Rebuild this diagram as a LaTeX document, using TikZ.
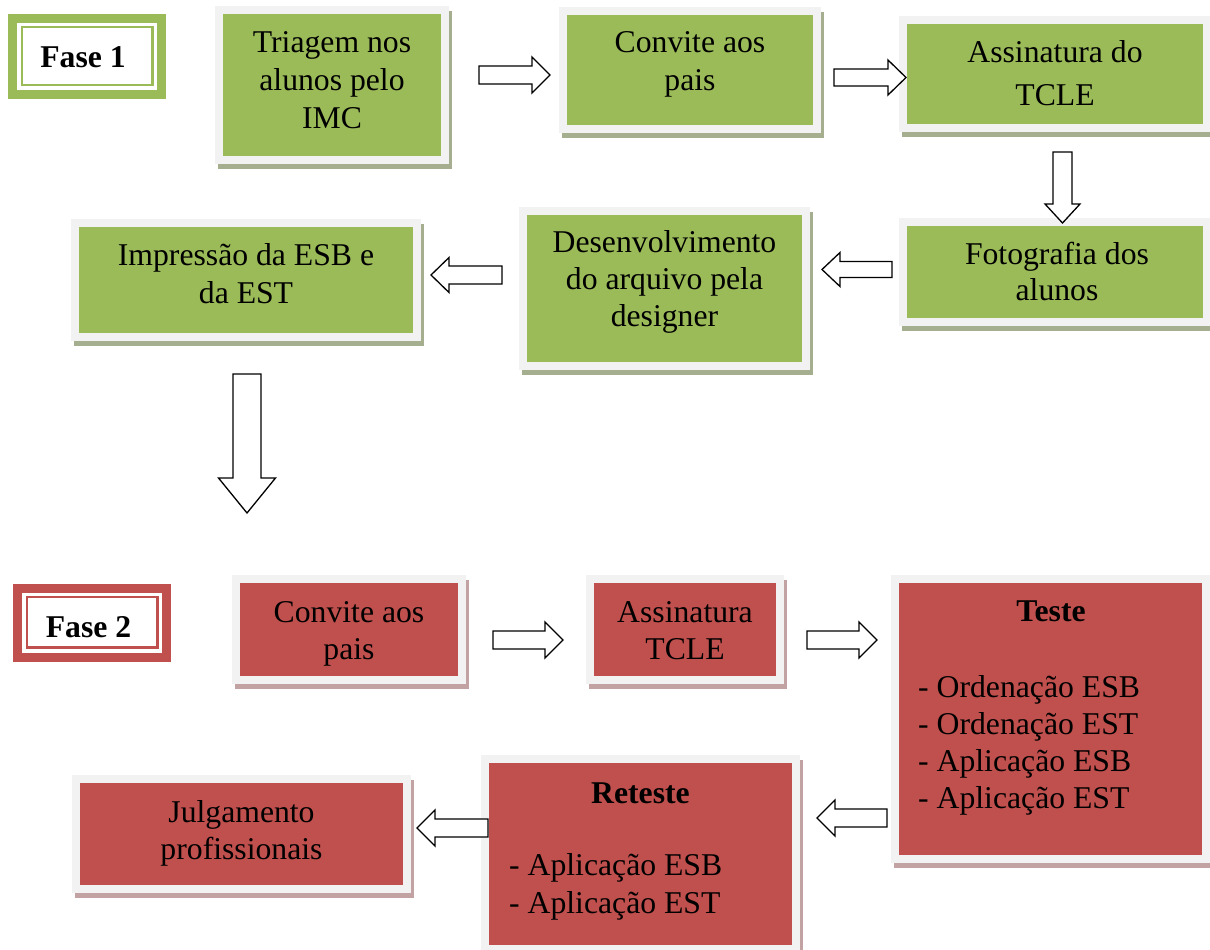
\documentclass[tikz,border=0pt]{standalone}
\usepackage{fontspec}
\setmainfont{Liberation Serif}
\usetikzlibrary{shadows}
\definecolor{gfill}{HTML}{9BBB59}
\definecolor{rfill}{HTML}{C0504D}
\definecolor{frame}{HTML}{F2F2F2}
\definecolor{gshadow}{HTML}{A5AE8E}
\definecolor{rshadow}{HTML}{C2A2A2}
\newcommand{\blockarrow}[6]{%
  \draw[barrow, shift={#1}, rotate=#2] (0,-#4) -- (#3-#6,-#4) -- (#3-#6,-#5) -- (#3,0) -- (#3-#6,#5) -- (#3-#6,#4) -- (0,#4) -- cycle;}
\tikzset{
  boxbase/.style={rectangle, inner sep=0pt, outer sep=0pt, fill=frame},
  gbox/.style={boxbase, drop shadow={shadow xshift=3pt, shadow yshift=-5pt, fill=gshadow, opacity=1},
    path picture={\fill[gfill] ([shift={(8pt,-8pt)}]path picture bounding box.north west) rectangle ([shift={(-8pt,8pt)}]path picture bounding box.south east);}},
  rbox/.style={boxbase, drop shadow={shadow xshift=3pt, shadow yshift=-5pt, fill=rshadow, opacity=1},
    path picture={\fill[rfill] ([shift={(8pt,-8pt)}]path picture bounding box.north west) rectangle ([shift={(-8pt,8pt)}]path picture bounding box.south east);}},
  fasebox/.style={rectangle, inner sep=0pt, outer sep=0pt, fill=#1,
    path picture={\fill[white] ([shift={(9pt,-9pt)}]path picture bounding box.north west) rectangle ([shift={(-9pt,9pt)}]path picture bounding box.south east);
      \draw[#1, line width=2.5pt] ([shift={(13.5pt,-13pt)}]path picture bounding box.north west) rectangle ([shift={(-13pt,14pt)}]path picture bounding box.south east);}},
  txt/.style={inner sep=0pt, anchor=base, font=\fontsize{31.7}{38}\selectfont},
  txtl/.style={txt, anchor=base west},
  btxt/.style={txt, font=\fontsize{31.7}{38}\selectfont\bfseries},
  barrow/.style={draw=black, fill=white, line width=1.3pt, line join=miter}
}
\begin{document}
\begin{tikzpicture}[x=1pt,y=-1pt]
\useasboundingbox[fill=white] (0,0) rectangle (1210,950);

% Fase labels
\node[fasebox=gfill, minimum width=157.4pt, minimum height=85pt] (fase1) at (87,56.5) {};
\node[btxt] (fase1t) at (83,67) {Fase 1};
\node[fasebox=rfill, minimum width=157.4pt, minimum height=77.7pt] (fase2) at (92,622.85) {};
\node[btxt] (fase2t) at (88.5,637) {Fase 2};

% Phase 1 boxes
\node[gbox, minimum width=234pt, minimum height=158pt] (b1) at (332,85) {};
\foreach \t [count=\i] in {Triagem nos, alunos pelo, IMC}
  \node[txt] (b1t\i) at (332,53+37.5*\i-37.5) {\t};

\node[gbox, minimum width=262pt, minimum height=126pt] (b2) at (690,70) {};
\foreach \t [count=\i] in {Convite aos, pais}
  \node[txt] (b2t\i) at (690,53+38*\i-38) {\t};

\node[gbox, minimum width=312pt, minimum height=116pt] (b3) at (1055,74) {};
\foreach \t [count=\i] in {Assinatura do, TCLE}
  \node[txt] (b3t\i) at (1055,63+43*\i-43) {\t};

\node[gbox, minimum width=312pt, minimum height=108pt] (b4) at (1055,272) {};
\foreach \t [count=\i] in {Fotografia dos, alunos}
  \node[txt] (b4t\i) at (1057,264+36*\i-36) {\t};

\node[gbox, minimum width=291pt, minimum height=163pt] (b5) at (664.5,288.5) {};
\foreach \t [count=\i] in {Desenvolvimento, do arquivo pela, designer}
  \node[txt] (b5t\i) at (664.5,252+37*\i-37) {\t};

\node[gbox, minimum width=350pt, minimum height=122pt] (b6) at (246,280) {};
\foreach \t [count=\i] in {Impressão da ESB e, da EST}
  \node[txt] (b6t\i) at (246,265+38*\i-38) {\t};

% Phase 2 boxes
\node[rbox, minimum width=234pt, minimum height=109pt] (r1) at (349,629.5) {};
\foreach \t [count=\i] in {Convite aos, pais}
  \node[txt] (r1t\i) at (349,622+37*\i-37) {\t};

\node[rbox, minimum width=198pt, minimum height=109pt] (r2) at (685,629.5) {};
\foreach \t [count=\i] in {Assinatura, TCLE}
  \node[txt] (r2t\i) at (685,622+37*\i-37) {\t};

\node[rbox, minimum width=319pt, minimum height=288pt] (r3) at (1050.5,719) {};
\node[btxt] (r3h) at (1051,621) {Teste};
\foreach \t [count=\i] in {- Ordenação ESB, - Ordenação EST, - Aplicação ESB, - Aplicação EST}
  \node[txtl] (r3t\i) at (918,697+37*\i-37) {\t};

\node[rbox, minimum width=319pt, minimum height=198pt] (r4) at (640.5,854) {};
\node[btxt] (r4h) at (640.5,803) {Reteste};
\foreach \t [count=\i] in {- Aplicação ESB, - Aplicação EST}
  \node[txtl] (r4t\i) at (509,875+38*\i-38) {\t};

\node[rbox, minimum width=339pt, minimum height=118pt] (r5) at (241.5,834) {};
\foreach \t [count=\i] in {Julgamento, profissionais}
  \node[txt] (r5t\i) at (241.5,822+37*\i-37) {\t};

% Block arrows
\blockarrow{(479,75)}{0}{71}{9}{18}{18}
\blockarrow{(834,77.5)}{0}{72}{8.5}{17.5}{18}
\blockarrow{(1062.5,152)}{-90}{71}{9.5}{17.5}{19}
\blockarrow{(892,269.5)}{180}{70}{8}{17}{18}
\blockarrow{(502,275)}{180}{71}{9}{17.5}{18}
\blockarrow{(247,374)}{-90}{139}{14}{28.5}{35}
\blockarrow{(493,640)}{0}{70}{9}{18}{18}
\blockarrow{(807,640)}{0}{70}{9}{18}{18}
\blockarrow{(887,818)}{180}{70}{9}{18}{18}
\blockarrow{(488,828)}{180}{71}{9}{18}{18}
\end{tikzpicture}
\end{document}
